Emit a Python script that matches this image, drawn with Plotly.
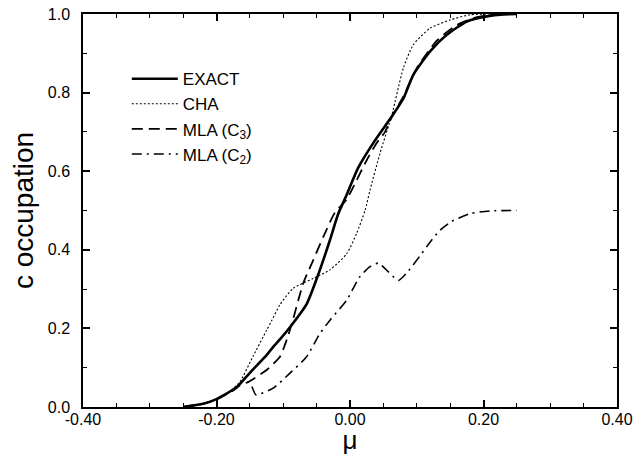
import plotly.graph_objects as go

# ------------- Data -------------

exact_x = [-0.25, -0.22, -0.20, -0.17, -0.15, -0.125, -0.115, -0.105, -0.09, -0.065,
           -0.047, -0.03, -0.018, -0.005, 0.012, 0.035, 0.0625, 0.08, 0.095, 0.12,
           0.145, 0.175, 0.205, 0.23, 0.25]
exact_y = [0.0, 0.008, 0.02, 0.05, 0.087, 0.132, 0.153, 0.172, 0.203, 0.262,
           0.34, 0.425, 0.49, 0.54, 0.608, 0.672, 0.739, 0.785, 0.846, 0.905,
           0.947, 0.981, 0.994, 0.999, 1.0]

cha_x = [-0.25, -0.22, -0.20, -0.18, -0.165, -0.145, -0.125, -0.117, -0.105, -0.085,
         -0.055, -0.03, -0.005, 0.01, 0.0225, 0.03, 0.045, 0.0625, 0.08, 0.095,
         0.12, 0.15, 0.18, 0.21, 0.25]
cha_y = [0.0, 0.008, 0.02, 0.04, 0.064, 0.13, 0.195, 0.221, 0.26, 0.302,
         0.327, 0.349, 0.39, 0.442, 0.50, 0.552, 0.646, 0.742, 0.863, 0.922,
         0.964, 0.985, 0.998, 1.0, 1.0]

mla3_x = [-0.25, -0.22, -0.20, -0.175, -0.165, -0.152, -0.125, -0.105, -0.095, -0.087,
          -0.07, -0.055, -0.04, -0.0225, -0.005, 0.005, 0.025, 0.04, 0.0525, 0.0625,
          0.08, 0.10, 0.13, 0.16, 0.19, 0.22, 0.25]
mla3_y = [0.0, 0.008, 0.02, 0.042, 0.055, 0.064, 0.094, 0.128, 0.17, 0.213,
          0.315, 0.374, 0.433, 0.495, 0.528, 0.56, 0.628, 0.672, 0.70, 0.738,
          0.79, 0.862, 0.932, 0.972, 0.992, 0.999, 1.0]

mla2_x = [-0.147, -0.141, -0.135, -0.115, -0.09, -0.065, -0.045, -0.03, -0.005, 0.015,
          0.03, 0.0425, 0.0575, 0.0725, 0.0875, 0.105, 0.1225, 0.135, 0.152, 0.18,
          0.21, 0.25]
mla2_y = [0.052, 0.031, 0.033, 0.048, 0.086, 0.128, 0.187, 0.221, 0.272, 0.332,
          0.357, 0.366, 0.344, 0.322, 0.346, 0.385, 0.425, 0.45, 0.472, 0.492,
          0.499, 0.50]

x_tickvals = [-0.40, -0.20, 0.00, 0.20, 0.40]
x_ticktext = ["-0.40", "-0.20", "0.00", "0.20", "0.40"]
y_tickvals = [0.0, 0.2, 0.4, 0.6, 0.8, 1.0]
y_ticktext = ["0.0", "0.2", "0.4", "0.6", "0.8", "1.0"]

FONT = "Liberation Sans, Arial, sans-serif"

# ------------- Figure -------------

fig = go.Figure()
fig.add_trace(go.Scatter(x=exact_x, y=exact_y, name="EXACT", mode="lines",
                         line=dict(color="black", width=2.6, shape="spline", smoothing=0.6)))
fig.add_trace(go.Scatter(x=cha_x, y=cha_y, name="CHA", mode="lines",
                         line=dict(color="black", width=1.1, dash="2px,2px", shape="spline", smoothing=0.6)))
fig.add_trace(go.Scatter(x=mla3_x, y=mla3_y, name="MLA (C<sub>3</sub>)", mode="lines",
                         line=dict(color="black", width=1.8, dash="11px,6px", shape="spline", smoothing=0.6)))
fig.add_trace(go.Scatter(x=mla2_x, y=mla2_y, name="MLA (C<sub>2</sub>)", mode="lines",
                         line=dict(color="black", width=1.6, dash="10px,5px,2px,5px", shape="spline", smoothing=0.6)))

axis_common = dict(
    showline=True, linecolor="black", linewidth=1.5, mirror="allticks",
    ticks="inside", ticklen=7, tickwidth=1.8, tickcolor="black",
    showgrid=False, zeroline=False, automargin=False,
    tickfont=dict(family=FONT, size=16, color="black"),
)

fig.update_xaxes(
    range=[-0.40, 0.40], tickvals=x_tickvals, ticktext=x_ticktext,
    ticklabelstandoff=-3,
    minor=dict(dtick=0.05, tick0=0, ticks="inside", ticklen=4, tickcolor="black", tickwidth=1.4),
    title=dict(text="μ", font=dict(family=FONT, size=26, color="black"), standoff=7),
    **axis_common,
)
fig.update_yaxes(
    range=[0.0, 1.0], tickvals=y_tickvals, ticktext=y_ticktext,
    ticklabelstandoff=8,
    minor=dict(dtick=0.1, tick0=0, ticks="inside", ticklen=4, tickcolor="black", tickwidth=1.4),
    title=dict(text="c occupation", font=dict(family=FONT, size=28, color="black"), standoff=6),
    **axis_common,
)

fig.update_layout(
    template="none",
    width=636, height=455,
    margin=dict(l=83, r=19, t=14, b=48),
    plot_bgcolor="white", paper_bgcolor="white",
    font=dict(family=FONT, color="black"),
    showlegend=True,
    legend=dict(
        x=0.082, y=0.88, xanchor="left", yanchor="top",
        bgcolor="rgba(0,0,0,0)", borderwidth=0,
        font=dict(family=FONT, size=17, color="black"),
        itemwidth=46,
    ),
)

# the page body has a default 8px margin; drop it so the figure sits at the corner
fig.write_html("out.html", config={"displayModeBar": False},
               post_script="document.body.style.margin='0px';")
